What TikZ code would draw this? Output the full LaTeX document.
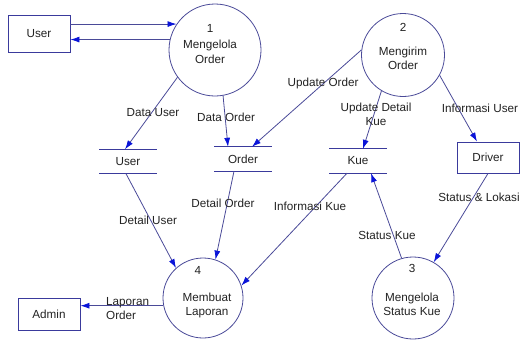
\documentclass[tikz,border=0pt]{standalone}
\usepackage{fontspec}
\setmainfont{Liberation Sans}
\usetikzlibrary{arrows.meta}
\definecolor{linec}{HTML}{4A4A98}
\definecolor{boxc}{HTML}{3A3A9C}
\definecolor{tipc}{HTML}{0A14D8}
\definecolor{txtc}{HTML}{222222}
\begin{document}
\begin{tikzpicture}[x=1pt,y=-1pt,
  every node/.style={font=\fontsize{11.7}{14}\selectfont, text=txtc},
  proc/.style={circle, draw=linec, line width=0.8pt, inner sep=0pt},
  entity/.style={rectangle, draw=boxc, line width=0.9pt, minimum width=62pt, inner sep=0pt},
  store/.style={rectangle, minimum width=57pt, minimum height=24pt, inner sep=0pt},
  storeline/.style={draw=boxc, line width=0.9pt},
  flow/.style={draw=linec, line width=0.8pt, -{Latex[length=9pt,width=6pt,color=tipc]}},
  lbl/.style={inner sep=0pt, align=center},
]
\useasboundingbox (0,0) rectangle (521,340);

% external entities
\node[entity, minimum height=37pt] (user) at (39,33.5) {User};
\node[entity, minimum height=31pt] (drv) at (488,157.5) {Driver};
\node[entity, minimum height=32pt] (adm) at (49,314) {Admin};

% processes
\node[proc, minimum size=92pt] (c1) at (215,50) {};
\node[proc, minimum size=83pt] (c2) at (403,55) {};
\node[proc, minimum size=80pt] (c4) at (203,298) {};
\node[proc, minimum size=82pt] (c3) at (413,298) {};

\node[lbl] (n1) at (210,28) {1};
\node[lbl] (t1) at (210,51.5) {Mengelola\\[1pt]Order};
\node[lbl] (n2) at (403,27) {2};
\node[lbl] (t2) at (403,58.5) {Mengirim\\Order};
\node[lbl] (n4) at (198,270) {4};
\node[lbl] (t4) at (207,305) {Membuat\\Laporan};
\node[lbl] (n3) at (412,268) {3};
\node[lbl] (t3) at (412,304) {Mengelola\\Status Kue};

% data stores
\node[store] (su) at (128,161.5) {User};
\node[store] (so) at (243,159) {Order};
\node[store] (sk) at (358,161) {Kue};
\foreach \s in {su,so,sk}{
  \draw[storeline] (\s.north west) -- (\s.north east);
  \draw[storeline] (\s.south west) -- (\s.south east);
}

% flows
\draw[flow] (user.east |- c1.146) -- (c1.146);
\draw[flow] (c1.167) -- (user.east |- c1.167);
\draw[flow] (c1.216) -- ([xshift=-3pt]su.north);
\draw[flow] (c1.280) -- ([xshift=-15pt]so.north);
\draw[flow] (c2.173) -- ([xshift=9pt]so.north);
\draw[flow] (c2.239) -- ([xshift=5pt]sk.north);
\draw[flow] (c2.331) -- ([xshift=-11pt]drv.north);
\draw[flow] ([xshift=-2pt]su.south) -- (c4.132);
\draw[flow] ([xshift=-9pt]so.south) -- (c4.72);
\draw[flow] ([xshift=-11pt]sk.south) -- (c4.18);
\draw[flow] (c3.106) -- ([xshift=13pt]sk.south);
\draw[flow] (drv.south) -- (c3.60);
\draw[flow] (c4.191) -- (adm.east |- c4.191);

% flow labels
\node[lbl] (l1) at (153,113) {Data User};
\node[lbl] (l2) at (226,117) {Data Order};
\node[lbl] (l3) at (323,83) {Update Order};
\node[lbl] (l4) at (376,114) {Update Detail\\Kue};
\node[lbl] (l5) at (480,108) {Informasi User};
\node[lbl] (l6) at (148,220) {Detail User};
\node[lbl] (l7) at (223,203) {Detail Order};
\node[lbl] (l8) at (310,206) {Informasi Kue};
\node[lbl] (l9) at (479,197) {Status \& Lokasi};
\node[lbl] (l10) at (387,235) {Status Kue};
\node[lbl, align=left, anchor=west] (l11) at (106,308.5) {Laporan\\Order};
\end{tikzpicture}
\end{document}
